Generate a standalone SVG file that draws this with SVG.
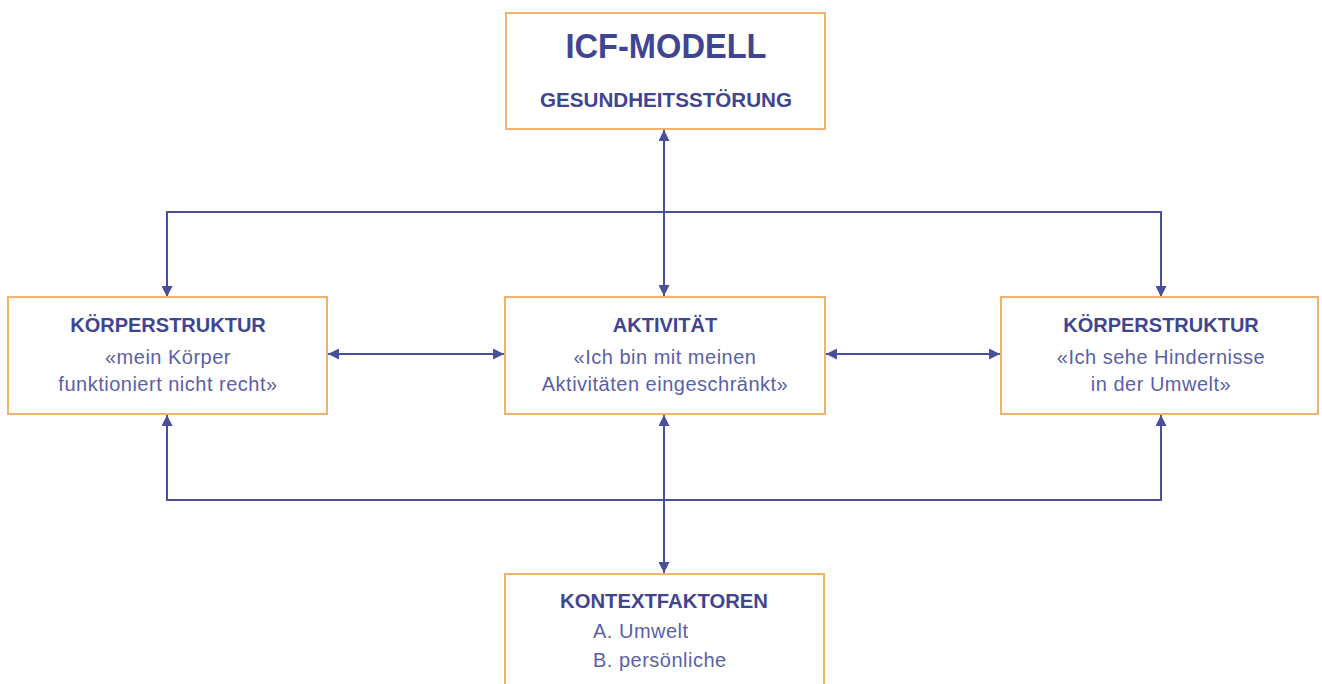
<svg xmlns="http://www.w3.org/2000/svg" width="1322" height="684" viewBox="0 0 1322 684">
<style>
.box{fill:#fff;stroke:#F0B26E;stroke-width:2}
.h{font-family:"Liberation Sans",Arial,sans-serif;font-weight:bold;fill:#3F4592;text-anchor:middle}
.t{font-family:"Liberation Sans",Arial,sans-serif;fill:#5B5FA8;font-size:20px;text-anchor:middle}
.ln{fill:none;stroke:#4A4F9C;stroke-width:2}
</style>
<defs>
<marker id="ah" viewBox="0 0 10 10" refX="10" refY="5" markerWidth="11" markerHeight="11" markerUnits="userSpaceOnUse" orient="auto-start-reverse">
<path d="M0,0 L10,5 L0,10 Z" fill="#4A4F9C"/>
</marker>
</defs>
<rect width="1322" height="684" fill="#fff"/>
<g id="connectors">
<polyline class="ln" points="167,297 167,212 1161,212 1161,297" marker-start="url(#ah)" marker-end="url(#ah)"/>
<line class="ln" x1="664" y1="130" x2="664" y2="296" marker-start="url(#ah)" marker-end="url(#ah)"/>
<polyline class="ln" points="167,415 167,500 1161,500 1161,415" marker-start="url(#ah)" marker-end="url(#ah)"/>
<line class="ln" x1="664" y1="415" x2="664" y2="573" marker-start="url(#ah)" marker-end="url(#ah)"/>
<line class="ln" x1="328" y1="354" x2="504" y2="354" marker-start="url(#ah)" marker-end="url(#ah)"/>
<line class="ln" x1="826" y1="354" x2="1000" y2="354" marker-start="url(#ah)" marker-end="url(#ah)"/>
</g>
<g id="icf">
<rect class="box" x="506" y="13" width="319" height="116"/>
<text class="h" x="666" y="58" font-size="35" textLength="201" lengthAdjust="spacingAndGlyphs">ICF-MODELL</text>
<text class="h" x="666" y="107" font-size="20" textLength="252" lengthAdjust="spacingAndGlyphs">GESUNDHEITSSTÖRUNG</text>
</g>
<g id="koerper-links">
<rect class="box" x="8" y="297" width="319" height="117"/>
<text class="h" x="168" y="332" font-size="20">KÖRPERSTRUKTUR</text>
<text class="t" x="168" y="364" letter-spacing="0.5">«mein Körper</text>
<text class="t" x="168" y="391" letter-spacing="0.5">funktioniert nicht recht»</text>
</g>
<g id="aktivitaet">
<rect class="box" x="505" y="297" width="320" height="117"/>
<text class="h" x="665" y="332" font-size="20">AKTIVITÄT</text>
<text class="t" x="665" y="364" letter-spacing="0.5">«Ich bin mit meinen</text>
<text class="t" x="665" y="391" letter-spacing="0.5">Aktivitäten eingeschränkt»</text>
</g>
<g id="koerper-rechts">
<rect class="box" x="1001" y="297" width="317" height="117"/>
<text class="h" x="1161" y="332" font-size="20">KÖRPERSTRUKTUR</text>
<text class="t" x="1161" y="364" letter-spacing="0.5">«Ich sehe Hindernisse</text>
<text class="t" x="1161" y="391" letter-spacing="0.5">in der Umwelt»</text>
</g>
<g id="kontext">
<rect class="box" x="505" y="574" width="319" height="120"/>
<text class="h" x="664" y="608" font-size="20" textLength="208" lengthAdjust="spacingAndGlyphs">KONTEXTFAKTOREN</text>
<text class="t" x="593" y="638" style="text-anchor:start" letter-spacing="0.5">A. Umwelt</text>
<text class="t" x="593" y="667" style="text-anchor:start" letter-spacing="0.5">B. persönliche</text>
</g>
</svg>
